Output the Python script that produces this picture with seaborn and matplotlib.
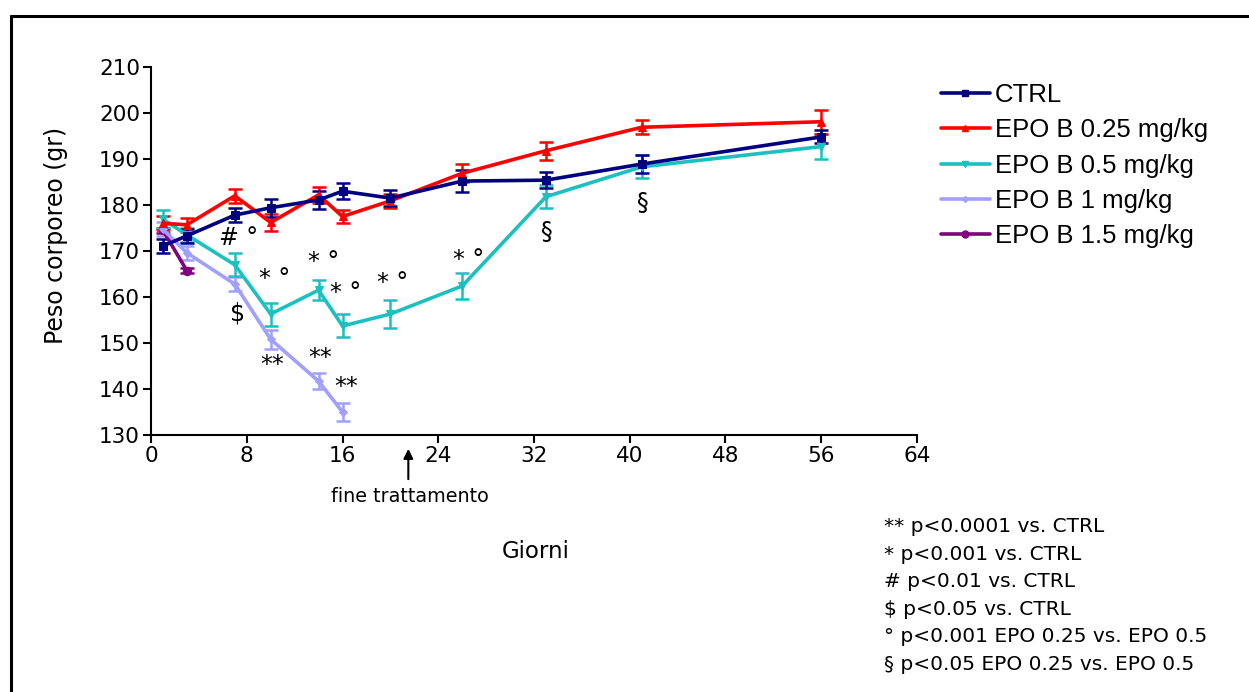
import matplotlib
matplotlib.use("Agg")
import matplotlib.pyplot as plt
import seaborn as sns
import pandas as pd
from matplotlib.lines import Line2D

# ---- data ----
days = [1, 3, 7, 10, 14, 16, 20, 26, 33, 41, 56]
ctrl = [171.1, 173.3, 177.8, 179.4, 181.1, 183.0, 181.5, 185.2, 185.4, 188.9, 194.8]
ctrl_err = [1.5, 1.5, 1.5, 2.0, 2.0, 1.8, 1.8, 2.3, 1.8, 2.0, 1.4]
epo025 = [176.0, 175.7, 182.0, 176.2, 182.2, 177.5, 180.9, 186.9, 191.8, 196.9, 198.1]
epo025_err = [1.5, 1.5, 1.5, 1.8, 1.8, 1.5, 1.5, 2.0, 2.0, 1.5, 2.6]
epo05 = [176.9, 173.5, 167.0, 156.3, 161.5, 153.7, 156.3, 162.4, 181.8, 188.3, 192.7]
epo05_err = [2.0, 1.5, 2.5, 2.5, 2.2, 2.5, 3.0, 2.8, 2.5, 2.5, 2.7]
days_1 = [1, 3, 7, 10, 14, 16]
epo1 = [174.7, 169.6, 162.8, 150.8, 141.7, 135.0]
epo1_err = [1.5, 1.5, 1.5, 2.0, 1.8, 2.0]
days_15 = [1, 3]
epo15 = [174.5, 165.7]
epo15_err = [0.5, 0.5]

labels = ["CTRL", "EPO B 0.25 mg/kg", "EPO B 0.5 mg/kg", "EPO B 1 mg/kg", "EPO B 1.5 mg/kg"]
colors = ["#000080", "#FF0000", "#1CC0BE", "#A0A0FF", "#800080"]
markers = ["s", "^", "v", "D", "o"]
msizes = [6, 6, 6, 4, 6]

annotations = [
    ("# °", 7.3, 172.8), ("$", 7.2, 156.5),
    ("* °", 10.3, 163.9), ("* °", 14.4, 167.7), ("* °", 16.3, 160.9),
    ("* °", 20.2, 163.0), ("* °", 26.5, 168.0),
    ("**", 10.1, 145.2), ("**", 14.1, 146.8), ("**", 16.3, 140.5),
    ("§", 33.1, 174.2), ("§", 41.1, 180.4),
]
notes = ["** p<0.0001 vs. CTRL", "* p<0.001 vs. CTRL", "# p<0.01 vs. CTRL",
         "$ p<0.05 vs. CTRL", "° p<0.001 EPO 0.25 vs. EPO 0.5",
         "§ p<0.05 EPO 0.25 vs. EPO 0.5"]

series = [
    (days, ctrl, ctrl_err), (days, epo025, epo025_err), (days, epo05, epo05_err),
    (days_1, epo1, epo1_err), (days_15, epo15, epo15_err),
]
rows = []
for lab, (d, v, e) in zip(labels, series):
    for di, vi, ei in zip(d, v, e):
        rows.append({"Giorni": di, "Peso": vi, "err": ei, "Gruppo": lab})
df = pd.DataFrame(rows)

sns.set_style("ticks")
plt.rcParams["font.family"] = ["DejaVu Sans"]
plt.rcParams["text.color"] = "black"
plt.rcParams["axes.labelcolor"] = "black"
plt.rcParams["xtick.color"] = "black"
plt.rcParams["ytick.color"] = "black"

fig = plt.figure(figsize=(12.49, 6.92), dpi=100)
ax = fig.add_axes([151/1249, 1-435/692, (917-151)/1249, (435-67)/692])

# draw in reverse order so CTRL ends on top
for lab, col, mk, ms in list(zip(labels, colors, markers, msizes))[::-1]:
    sub = df[df["Gruppo"] == lab]
    ax.errorbar(sub["Giorni"], sub["Peso"], yerr=sub["err"], fmt="none",
                ecolor=col, elinewidth=1.8, capsize=5, capthick=1.8, zorder=2)
    sns.lineplot(data=sub, x="Giorni", y="Peso", ax=ax, color=col, marker=mk,
                 markersize=ms, markeredgecolor=col, linewidth=2.6,
                 errorbar=None, legend=False, zorder=3)

ax.set_xlim(0, 64)
ax.set_ylim(130, 210)
ax.set_xticks(range(0, 65, 8))
ax.set_yticks(range(130, 211, 10))
ax.set_xlabel("")
ax.set_ylabel("")
for s in ["top", "right"]:
    ax.spines[s].set_visible(False)
for s in ["left", "bottom"]:
    ax.spines[s].set_linewidth(1.5)
    ax.spines[s].set_color("black")
ax.tick_params(axis="both", direction="out", length=6, width=1.5, labelsize=15.5,
               colors="black", labelcolor="black", pad=2)

for txt, x, y in annotations:
    ax.text(x, y, txt, ha="center", va="center", fontsize=17, color="black")

# arrow for end of treatment
ax.annotate("", xy=(21.5, 130 - 3.0), xytext=(21.5, 130 - 9.6),
            xycoords="data", textcoords="data",
            arrowprops=dict(arrowstyle="-|>", color="black", lw=1.5,
                            mutation_scale=14, shrinkA=0, shrinkB=0),
            annotation_clip=False)
fig.text(410/1249, 1-496/692, "fine trattamento", ha="center", va="center",
         fontsize=13.8, color="black")

fig.text(536/1249, 1-551/692, "Giorni", ha="center", va="center", fontsize=16.5,
         color="black")
fig.text(56/1249, 1-235/692, "Peso corporeo (gr)", ha="center", va="center",
         rotation=90, fontsize=17, color="black")

handles = [Line2D([], [], color=c, marker=m, markersize=ms - 1, linewidth=2.6)
           for c, m, ms in zip(colors, markers, msizes)]
leg = fig.legend(handles, labels, loc="upper left",
                 bbox_to_anchor=(941/1249, 1-83/692), frameon=False,
                 prop={"family": "Liberation Sans", "size": 18.5},
                 handlelength=1.9, handletextpad=0.2, labelspacing=0.44,
                 borderaxespad=0, borderpad=0)
for t in leg.get_texts():
    t.set_color("black")

for i, n in enumerate(notes):
    fig.text(884/1249, 1-(527 + 27.4*i)/692, n, ha="left", va="center",
             fontsize=14.5, color="black")

# figure frame (left and top edges visible)
fig.add_artist(Line2D([11/1249, 11/1249], [0, 1-16/692], transform=fig.transFigure,
                      color="black", linewidth=2.2))
fig.add_artist(Line2D([11/1249, 1], [1-16/692, 1-16/692], transform=fig.transFigure,
                      color="black", linewidth=2.2))

fig.savefig("out.png", dpi=100)
